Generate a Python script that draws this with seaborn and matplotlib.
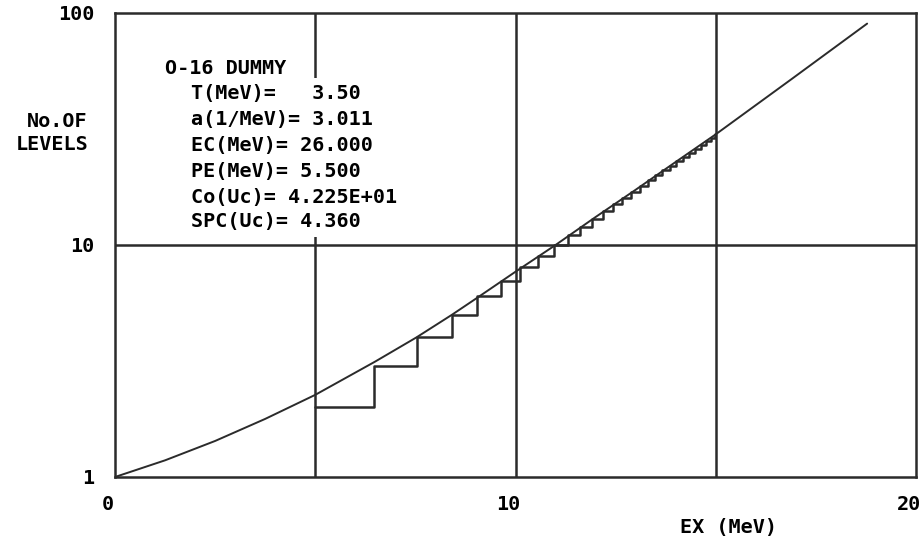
import matplotlib
matplotlib.use("Agg")
import matplotlib.pyplot as plt
import matplotlib.transforms as mtransforms
import seaborn as sns
import pandas as pd

# ---- data ----
ex_curve = [0.0, 1.25, 2.5, 3.75, 5.0, 6.49, 7.53, 8.41, 9.03, 10.0, 11.0,
            12.0, 13.0, 14.0, 15.0, 16.9, 18.78]
n_curve = [1.0, 1.18, 1.43, 1.78, 2.26, 3.14, 4.0, 5.0, 5.9, 7.67, 10.0,
           13.2, 17.3, 22.8, 30.0, 52.0, 90.0]

level_energy = [5.0, 6.47, 7.55, 8.41, 9.05, 9.65, 10.11, 10.56, 10.96, 11.30, 11.62,
                11.91, 12.18, 12.43, 12.67, 12.89, 13.10, 13.30, 13.49, 13.67, 13.85,
                14.01, 14.17, 14.33, 14.48, 14.62, 14.76, 14.89, 14.99]
level_count = list(range(2, 31))

x_ticks = [0, 10, 20]
x_tick_labels = ["0", "10", "20"]
y_ticks = [1, 10, 100]
y_tick_labels = ["1", "10", "100"]
grid_x = [5, 10, 15]
grid_y = [10]

title_line = "O-16 DUMMY"
param_lines = ["T(MeV)=   3.50", "a(1/MeV)= 3.011", "EC(MeV)= 26.000",
               "PE(MeV)= 5.500", "Co(Uc)= 4.225E+01", "SPC(Uc)= 4.360"]

sns.set_style("white")
plt.rcParams["font.family"] = ["DejaVu Sans Mono"]
plt.rcParams["font.weight"] = "bold"
plt.rcParams["text.color"] = "black"

W, H = 923, 542
fig = plt.figure(figsize=(W / 100, H / 100), dpi=100)
ax = fig.add_axes([115 / W, 1 - 477 / H, (916 - 115) / W, (477 - 13) / H])

col = "#2b2b2b"
ax.set_yscale("log")
ax.set_xlim(0, 20)
ax.set_ylim(1, 100)

for gx in grid_x:
    ax.axvline(gx, color=col, lw=1.8, zorder=1)
for gy in grid_y:
    ax.axhline(gy, color=col, lw=1.8, zorder=1)

df_curve = pd.DataFrame({"EX": ex_curve, "N": n_curve})
df_steps = pd.DataFrame({"EX": level_energy, "N": level_count})
sns.lineplot(data=df_curve, x="EX", y="N", ax=ax, color=col, lw=1.4, zorder=3)
sns.lineplot(data=df_steps, x="EX", y="N", ax=ax, color=col, lw=1.8,
             drawstyle="steps-post", zorder=3)

ax.set_xticks(x_ticks)
ax.set_xticklabels(x_tick_labels)
ax.set_yticks(y_ticks)
ax.set_yticklabels(y_tick_labels)
ax.minorticks_off()
ax.tick_params(length=0, labelsize=14.5, labelcolor="black", pad=15)
ax.tick_params(axis="x", pad=13)
shift = mtransforms.ScaledTranslation(-7 / 100, 0, fig.dpi_scale_trans)
for lbl in ax.get_xticklabels():
    lbl.set_horizontalalignment("center")
    lbl.set_fontweight("bold")
    lbl.set_transform(lbl.get_transform() + shift)
for lbl in ax.get_yticklabels():
    lbl.set_fontweight("bold")
ax.set_xlabel("")
ax.set_ylabel("")
for s in ax.spines.values():
    s.set_color(col)
    s.set_linewidth(1.8)
    s.set_visible(True)

fs = 14.5
fig.text(165 / W, 1 - 69 / H, title_line, fontsize=fs, fontweight="bold",
         color="black", va="center", ha="left")
ys = [93, 120, 146, 171, 197, 222]
for yy, line in zip(ys, param_lines):
    fig.text(191 / W, 1 - yy / H, line, fontsize=fs, fontweight="bold",
             color="black", va="center", ha="left", zorder=5,
             bbox=dict(facecolor="white", edgecolor="none", pad=4))

fig.text(88 / W, 1 - 133 / H, "No.OF\nLEVELS", fontsize=fs, fontweight="bold",
         color="black", va="center", ha="right", multialignment="right",
         linespacing=1.3)
fig.text(728 / W, 1 - 528 / H, "EX (MeV)", fontsize=fs, fontweight="bold",
         color="black", va="center", ha="center")

fig.savefig("out.png", dpi=100)
